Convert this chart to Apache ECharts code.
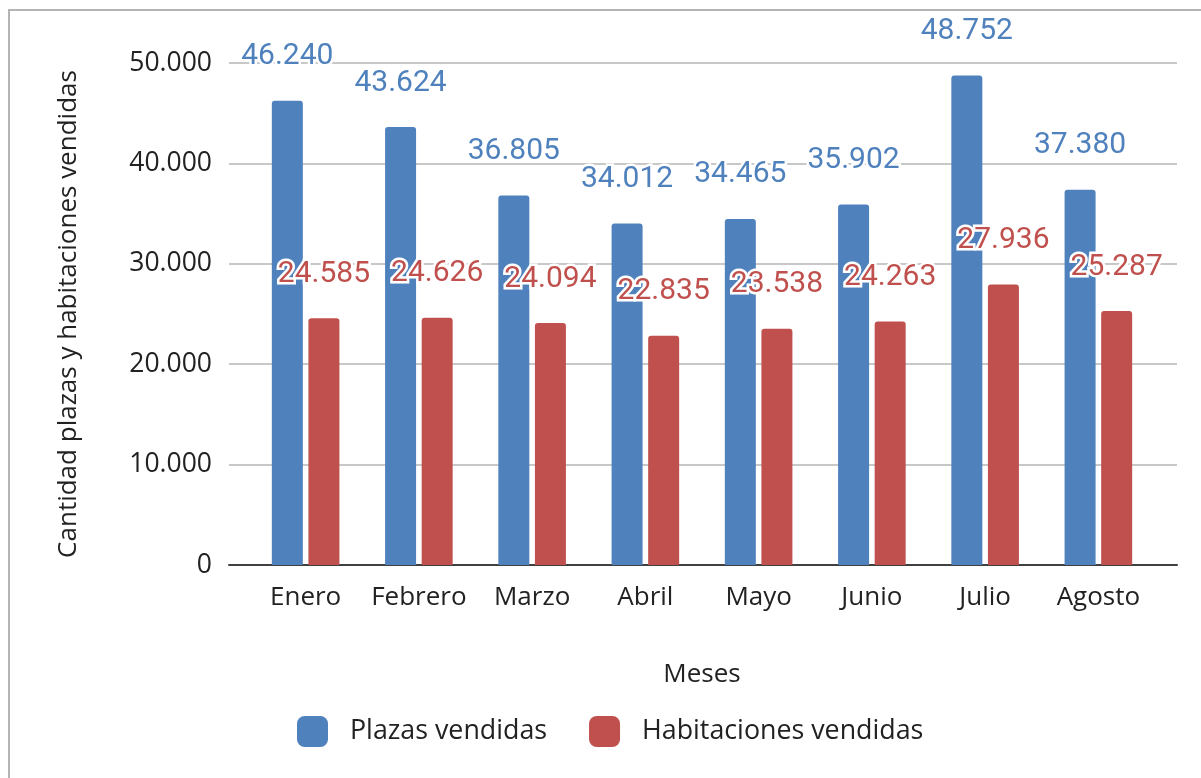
<!DOCTYPE html>
<html lang="es">
<head>
    <meta charset="UTF-8">
    <title>Plazas y habitaciones vendidas</title>
    <script src="https://cdn.jsdelivr.net/npm/echarts@6/dist/echarts.min.js"></script>
    <style>
        html, body { margin: 0; padding: 0; background: #fff; }
    </style>
</head>
<body>
<div id="grafico" style="width:1201px; height:778px;"></div>
<script type="text/javascript">
// datos
var meses = ['Enero', 'Febrero', 'Marzo', 'Abril', 'Mayo', 'Junio', 'Julio', 'Agosto'];
var plazas = [46240, 43624, 36805, 34012, 34465, 35902, 48752, 37380];
var habitaciones = [24585, 24626, 24094, 22835, 23538, 24263, 27936, 25287];
var nombres = ['Plazas vendidas', 'Habitaciones vendidas'];
var colores = ['#4f81bd', '#c0504d'];

// 46240 -> "46.240"
function miles(v) {
    return String(v).replace(/\B(?=(\d{3})+(?!\d))/g, '.');
}

var fuente = '"Open Sans", sans-serif';

function serie(i, datos) {
    return {
        name: nombres[i],
        type: 'bar',
        xAxisIndex: 1,
        yAxisIndex: 1,
        data: datos,
        barWidth: 31,
        barGap: '18%',
        itemStyle: {color: colores[i], borderRadius: [3, 3, 0, 0]},
        label: {
            show: true,
            position: 'top',
            distance: 29,
            color: colores[i],
            fontFamily: 'Roboto',
            fontSize: 30,
            textBorderColor: '#fff',
            textBorderWidth: 5,
            formatter: function (p) { return miles(p.value); }
        }
    };
}

var myChart = echarts.init(document.getElementById('grafico'));
myChart.setOption({
    animation: false,
    graphic: [{
        type: 'rect',
        shape: {x: 9, y: 10, width: 1400, height: 1000},
        style: {fill: 'none', stroke: '#b4b4b4', lineWidth: 2},
        silent: true
    }],
    legend: {
        left: 292,
        top: 711,
        itemWidth: 31,
        itemHeight: 31,
        itemGap: 42,
        icon: 'roundRect',
        textStyle: {fontFamily: fuente, fontSize: 26.8, color: '#222', padding: [0, 0, 0, 17]},
        data: nombres
    },
    grid: [
        {left: 229, right: 24, top: 63, bottom: 213},
        {left: 249, right: 46, top: 63, bottom: 213}
    ],
    xAxis: [{
        gridIndex: 0,
        type: 'value',
        min: 0,
        max: 1,
        axisLine: {show: true, onZero: false, lineStyle: {color: '#404040', width: 2}},
        axisTick: {show: false},
        axisLabel: {show: false},
        splitLine: {show: false}
    }, {
        gridIndex: 1,
        type: 'category',
        data: meses,
        name: 'Meses',
        nameLocation: 'middle',
        nameGap: 97,
        nameTextStyle: {fontFamily: fuente, fontSize: 26, color: '#222'},
        axisLine: {show: false},
        axisTick: {show: false},
        axisLabel: {fontFamily: fuente, fontSize: 26, color: '#222', margin: 20, interval: 0}
    }],
    yAxis: [{
        gridIndex: 0,
        type: 'value',
        min: 0,
        max: 50000,
        interval: 10000,
        name: 'Cantidad plazas y habitaciones vendidas',
        nameLocation: 'middle',
        nameGap: 147,
        nameTextStyle: {fontFamily: fuente, fontSize: 26, color: '#222'},
        axisLine: {show: false},
        axisTick: {show: false},
        axisLabel: {
            fontFamily: fuente, fontSize: 26.5, color: '#222', margin: 17,
            formatter: function (v) { return miles(v); }
        },
        splitLine: {lineStyle: {color: '#c8c8c8', width: 2}}
    }, {
        gridIndex: 1,
        type: 'value',
        min: 0,
        max: 50000,
        interval: 10000,
        show: false,
        splitLine: {show: false}
    }],
    series: [serie(0, plazas), serie(1, habitaciones)]
});
</script>
</body>
</html>
